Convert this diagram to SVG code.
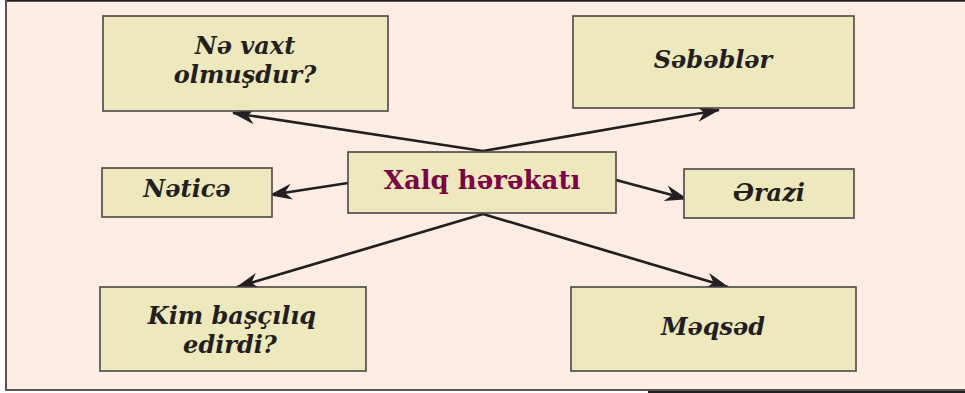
<svg xmlns="http://www.w3.org/2000/svg" width="965" height="393" viewBox="0 0 965 393">
<style>
.box{fill:#eee8bd;stroke:#4b4646;stroke-width:1.6}
.lbl{font-family:"DejaVu Serif","Liberation Serif",serif;font-weight:bold;font-style:italic;font-size:24px;fill:#231f20;text-anchor:middle}
.main{font-family:"DejaVu Serif","Liberation Serif",serif;font-weight:bold;font-size:26px;fill:#7b0046;text-anchor:middle}
.conn line{stroke:#231f20;stroke-width:2.7;marker-end:url(#ah)}
</style>
<defs>
<marker id="ah" markerUnits="userSpaceOnUse" markerWidth="26" markerHeight="20" viewBox="-24 -10 26 20" refX="0" refY="0" orient="auto">
<path d="M1,0 L-22,-8 L-15,0 L-22,8 Z" fill="#231f20"/>
</marker>
</defs>
<rect x="0" y="0" width="965" height="393" fill="#ffffff"/>
<rect x="6" y="1" width="959" height="389" fill="#fdede5"/>
<line x1="5" y1="0.8" x2="965" y2="0.8" stroke="#231f20" stroke-width="1.8"/>
<line x1="6" y1="0" x2="6" y2="391" stroke="#555" stroke-width="2"/>
<line x1="5" y1="390" x2="965" y2="390" stroke="#555" stroke-width="2.2"/>
<line x1="648" y1="392" x2="965" y2="392" stroke="#231f20" stroke-width="2"/>
<g class="conn" id="connectors">
<line x1="483" y1="151" x2="233" y2="113"/>
<line x1="483" y1="151" x2="719" y2="110"/>
<line x1="348" y1="183" x2="270" y2="195"/>
<line x1="616" y1="180" x2="687" y2="199"/>
<line x1="483" y1="214" x2="237" y2="287"/>
<line x1="483" y1="214" x2="728" y2="287"/>
</g>
<g id="n-vaxt">
<rect class="box" x="103" y="16" width="285" height="95"/>
<text class="lbl" x="245" y="54">Nə vaxt</text>
<text class="lbl" x="245" y="83">olmuşdur?</text>
</g>
<g id="n-sebebler">
<rect class="box" x="573" y="16" width="281" height="92"/>
<text class="lbl" x="713" y="68">Səbəblər</text>
</g>
<g id="n-netice">
<rect class="box" x="102" y="168" width="170" height="49"/>
<text class="lbl" x="187" y="197">Nəticə</text>
</g>
<g id="n-center">
<rect class="box" x="348" y="152" width="268" height="61"/>
<text class="main" x="482" y="189">Xalq hərəkatı</text>
</g>
<g id="n-erazi">
<rect class="box" x="684" y="169" width="170" height="49"/>
<text class="lbl" x="769" y="201">Ərazi</text>
</g>
<g id="n-kim">
<rect class="box" x="100" y="287" width="266" height="84"/>
<text class="lbl" x="232" y="324">Kim başçılıq</text>
<text class="lbl" x="230" y="353">edirdi?</text>
</g>
<g id="n-meqsed">
<rect class="box" x="571" y="287" width="285" height="84"/>
<text class="lbl" x="713" y="335">Məqsəd</text>
</g>
</svg>
